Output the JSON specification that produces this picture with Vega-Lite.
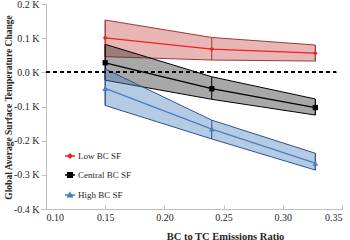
{
  "$schema": "https://vega.github.io/schema/vega-lite/v6.json",
  "width": 296,
  "height": 205,
  "autosize": {"type": "none"},
  "padding": {"left": 46, "top": 4, "right": 8, "bottom": 31},
  "config": {
    "view": {"stroke": null},
    "font": "Liberation Serif",
    "axis": {"labelFont": "Liberation Serif", "titleFont": "Liberation Serif", "domainColor": "#bfbfbf", "tickColor": "#bfbfbf", "grid": false, "labelColor": "#262626", "titleColor": "#262626", "labelFontSize": 10, "titleFontSize": 10.5, "titleFontWeight": "bold", "labelOverlap": false},
    "axisY": {"tickCount": 7}
  },
  "datasets": {
    "d": [
      {"s": "Low BC SF", "x": 0.15, "y": 0.101, "lo": 0.046, "hi": 0.153},
      {"s": "Low BC SF", "x": 0.24, "y": 0.068, "lo": 0.036, "hi": 0.102},
      {"s": "Low BC SF", "x": 0.3275, "y": 0.056, "lo": 0.033, "hi": 0.080},
      {"s": "Central BC SF", "x": 0.15, "y": 0.028, "lo": -0.023, "hi": 0.082},
      {"s": "Central BC SF", "x": 0.24, "y": -0.048, "lo": -0.079, "hi": -0.013},
      {"s": "Central BC SF", "x": 0.3275, "y": -0.103, "lo": -0.125, "hi": -0.078},
      {"s": "High BC SF", "x": 0.15, "y": -0.047, "lo": -0.097, "hi": 0.010},
      {"s": "High BC SF", "x": 0.24, "y": -0.166, "lo": -0.195, "hi": -0.140},
      {"s": "High BC SF", "x": 0.3275, "y": -0.266, "lo": -0.286, "hi": -0.237}
    ]
  },
  "data": {"name": "d"},
  "resolve": {"scale": {"fill": "independent", "stroke": "independent", "shape": "independent"}},
  "layer": [
    {
      "mark": {"type": "area", "fillOpacity": 0.42, "strokeWidth": 1, "orient": "vertical"},
      "encoding": {
        "x": {"field": "x", "type": "quantitative", "scale": {"domain": [0.1, 0.35], "nice": false}, "axis": {"values": [0.1, 0.15, 0.2, 0.25, 0.3, 0.35], "format": ".2f", "tickSize": -4, "labelPadding": 7, "labelOverlap": false, "title": "BC to TC Emissions Ratio", "titleX": 179, "titleY": 27, "titleBaseline": "middle", "titleAlign": "center"}},
        "y": {"field": "lo", "type": "quantitative", "scale": {"domain": [-0.4, 0.2], "nice": false}, "axis": {"values": [-0.4, -0.3, -0.2, -0.1, 0, 0.1, 0.2], "tickCount": 7, "labelOverlap": false, "labelExpr": "(datum.value < -0.001 ? '-' : '') + format(abs(datum.value), '.1f') + ' K'", "tickSize": 5, "labelPadding": 2, "title": "Global Average Surface Temperature Change", "titleFontSize": 9.5, "titleX": -38, "titleY": 103, "titleAlign": "center", "titleBaseline": "middle", "titleAngle": -90}},
        "y2": {"field": "hi"},
        "fill": {"field": "s", "type": "nominal", "scale": {"domain": ["Low BC SF", "Central BC SF", "High BC SF"], "range": ["#c8504d", "#303030", "#4f81bd"]}, "legend": null},
        "stroke": {"field": "s", "type": "nominal", "scale": {"domain": ["Low BC SF", "Central BC SF", "High BC SF"], "range": ["#9a3a38", "#000000", "#2f5290"]}, "legend": null}
      }
    },
    {
      "mark": {"type": "rule", "strokeWidth": 1},
      "encoding": {
        "x": {"field": "x", "type": "quantitative"},
        "y": {"field": "lo", "type": "quantitative"},
        "y2": {"field": "hi"},
        "stroke": {"field": "s", "type": "nominal", "scale": {"domain": ["Low BC SF", "Central BC SF", "High BC SF"], "range": ["#9a3a38", "#000000", "#2f5290"]}, "legend": null}
      }
    },
    {
      "mark": {"type": "line", "strokeWidth": 1.3},
      "encoding": {
        "x": {"field": "x", "type": "quantitative"},
        "y": {"field": "y", "type": "quantitative"},
        "stroke": {"field": "s", "type": "nominal", "scale": {"domain": ["Low BC SF", "Central BC SF", "High BC SF"], "range": ["#ee2020", "#000000", "#4a7ec4"]}, "legend": null}
      }
    },
    {
      "mark": {"type": "point", "filled": true, "opacity": 1},
      "encoding": {
        "x": {"field": "x", "type": "quantitative"},
        "y": {"field": "y", "type": "quantitative"},
        "fill": {"field": "s", "type": "nominal", "scale": {"domain": ["Low BC SF", "Central BC SF", "High BC SF"], "range": ["#ee2020", "#000000", "#4a7ec4"]}, "legend": null},
        "shape": {"field": "s", "type": "nominal", "scale": {"domain": ["Low BC SF", "Central BC SF", "High BC SF"], "range": ["diamond", "square", "triangle-up"]}, "legend": null},
        "size": {"field": "s", "type": "nominal", "scale": {"domain": ["Low BC SF", "Central BC SF", "High BC SF"], "range": [22, 34, 26]}, "legend": null}
      }
    },
    {
      "mark": {"type": "rule", "strokeDash": [4, 3], "strokeWidth": 1.5, "color": "#000000"},
      "encoding": {
        "y": {"datum": 0, "type": "quantitative"},
        "x": {"datum": 0.1, "type": "quantitative"},
        "x2": {"datum": 0.345}
      }
    },
    {
      "mark": {"type": "point", "filled": true, "opacity": 0, "strokeWidth": 1.5},
      "encoding": {
        "x": {"field": "x", "type": "quantitative"},
        "y": {"field": "y", "type": "quantitative"},
        "fill": {"field": "s", "type": "nominal", "title": null, "scale": {"domain": ["Low BC SF", "Central BC SF", "High BC SF"], "range": ["#ee2020", "#000000", "#4a7ec4"]}},
        "stroke": {"field": "s", "type": "nominal", "title": null, "scale": {"domain": ["Low BC SF", "Central BC SF", "High BC SF"], "range": ["#ee2020", "#000000", "#4a7ec4"]}},
        "shape": {"field": "s", "type": "nominal", "title": null, "scale": {"domain": ["Low BC SF", "Central BC SF", "High BC SF"], "range": ["M-1,0H1M0,-0.4L0.4,0L0,0.4L-0.4,0Z", "M-1,0H1M-0.45,-0.45H0.45V0.45H-0.45Z", "M-1,0H1M0,-0.45L0.45,0.35H-0.45Z"]},
          "legend": {"orient": "none", "legendX": 18, "legendY": 146, "symbolSize": 100, "symbolOpacity": 1, "symbolStrokeWidth": 1.5, "labelFont": "Liberation Serif", "labelFontSize": 9, "labelColor": "#262626", "labelOffset": 2, "rowPadding": 8}}
      }
    }
  ]
}
